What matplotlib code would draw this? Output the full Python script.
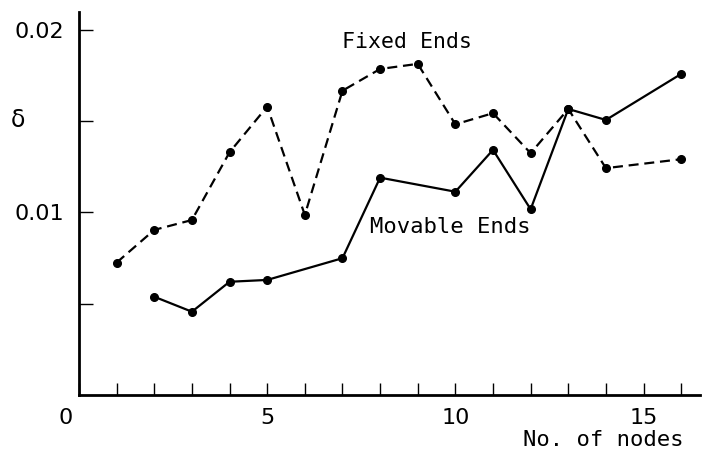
import matplotlib
matplotlib.use("Agg")
import matplotlib.pyplot as plt
import matplotlib.transforms as mtransforms

# Data
fixed_x = [1, 2, 3, 4, 5, 6, 7, 8, 9, 10, 11, 12, 13, 14, 16]
fixed_y = [0.00725, 0.00904, 0.00958, 0.01329, 0.01579, 0.00986, 0.01666,
           0.01785, 0.01813, 0.01482, 0.01543, 0.01324, 0.01566, 0.01242, 0.01291]

movable_x = [2, 3, 4, 5, 7, 8, 10, 11, 12, 13, 14, 16]
movable_y = [0.00538, 0.00456, 0.00620, 0.00630, 0.00749, 0.01190, 0.01113,
             0.01342, 0.01017, 0.01566, 0.01506, 0.01758]

xtick_vals = list(range(0, 17))
xtick_labels = ['0', '', '', '', '', '5', '', '', '', '', '10', '', '', '', '', '15', '']
ytick_vals = [0.005, 0.01, 0.015, 0.02]
ytick_labels = ['', '0.01', '', '0.02']

plt.rcParams['font.family'] = ['DejaVu Sans']

fig = plt.figure(figsize=(7.05, 4.57), dpi=100)
ax = fig.add_axes([79/705, 62/457, 621/705, 383/457])

ax.plot(fixed_x, fixed_y, color='black', lw=1.6, ls=(0, (4.5, 2.6)),
        marker='o', ms=5.5, mfc='black', mec='black')
ax.plot(movable_x, movable_y, color='black', lw=1.6, ls='-',
        marker='o', ms=5.5, mfc='black', mec='black')

ax.set_xlim(0, 16.5)
ax.set_ylim(0, 0.02097)

for s in ['top', 'right']:
    ax.spines[s].set_visible(False)
for s in ['left', 'bottom']:
    ax.spines[s].set_linewidth(2.0)

ax.set_xticks(xtick_vals)
ax.set_xticklabels(xtick_labels)
ax.set_yticks(ytick_vals)
ax.set_yticklabels(ytick_labels)
ax.tick_params(axis='x', direction='in', length=9, width=1.0, labelsize=16, pad=9)
ax.tick_params(axis='y', direction='in', length=10, width=1.0, labelsize=16, pad=11)

# shift the "0" label slightly left like the reference
lab0 = ax.get_xticklabels()[0]
lab0.set_transform(lab0.get_transform() + mtransforms.ScaledTranslation(-13/100, 0, fig.dpi_scale_trans))

mono = ['DejaVu Sans Mono']
ax.text(407/705, 1 - 42/457, 'Fixed Ends', transform=fig.transFigure, ha='center', va='center',
        fontsize=15.5, family=mono)
ax.text(450/705, 1 - 227/457, 'Movable Ends', transform=fig.transFigure, ha='center', va='center',
        fontsize=16, family=mono)
ax.text(603/705, 1 - 440/457, 'No. of nodes', transform=fig.transFigure, ha='center', va='center',
        fontsize=16, family=mono)
ax.text(18/705, 1 - 120/457, 'δ', transform=fig.transFigure, ha='center', va='center',
        fontsize=17)

fig.savefig('out.png', dpi=100)
